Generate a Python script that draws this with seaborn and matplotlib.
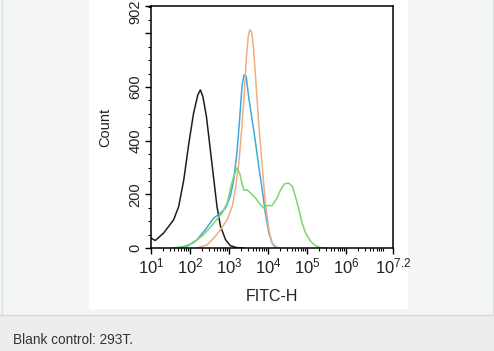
import matplotlib
matplotlib.use("Agg")
import matplotlib.pyplot as plt
from matplotlib.patches import Rectangle
from matplotlib.lines import Line2D
from matplotlib.ticker import FixedLocator, MultipleLocator, NullFormatter, FixedFormatter
from matplotlib.transforms import blended_transform_factory, offset_copy
import numpy as np
import pandas as pd
import seaborn as sns

# ---- data (log10 FITC-H, count) ----
black_log = [1.0, 1.11, 1.325, 1.58, 1.71, 1.84, 1.97, 2.09, 2.20, 2.265, 2.33, 2.42, 2.52, 2.61, 2.69, 2.78, 2.91, 3.03, 3.2, 3.38]
black_cnt = [37, 28, 56, 105, 155, 254, 391, 502, 571, 589, 564, 490, 366, 254, 155, 81, 31, 9, 1, 0]

blue_log = [1.67, 1.92, 2.18, 2.39, 2.61, 2.78, 2.91, 3.03, 3.12, 3.20, 3.27, 3.33, 3.38, 3.44, 3.50, 3.59, 3.68, 3.76, 3.85, 3.93, 4.02, 4.10, 4.19, 4.32]
blue_cnt = [0, 6, 31, 68, 112, 130, 149, 192, 254, 354, 478, 602, 645, 639, 565, 478, 391, 304, 217, 130, 56, 19, 2, 0]

orange_log = [2.18, 2.44, 2.61, 2.78, 2.95, 3.08, 3.16, 3.25, 3.33, 3.39, 3.44, 3.49, 3.53, 3.58, 3.63, 3.69, 3.76, 3.85, 3.93, 4.02, 4.10, 4.23, 4.32]
orange_cnt = [0, 12, 37, 68, 105, 155, 217, 316, 453, 577, 701, 788, 813, 806, 738, 614, 465, 304, 167, 68, 19, 1, 0]

green_log = [1.58, 1.84, 2.09, 2.35, 2.61, 2.82, 2.95, 3.05, 3.12, 3.20, 3.27, 3.33, 3.38, 3.46, 3.55, 3.68, 3.80, 3.89, 3.97, 4.10, 4.23, 4.32, 4.42, 4.53, 4.62, 4.70, 4.79, 4.87, 4.96, 5.09, 5.21, 5.34, 5.5]
green_cnt = [0, 6, 19, 50, 93, 130, 167, 230, 267, 298, 279, 242, 215, 217, 205, 186, 161, 149, 158, 158, 186, 217, 239, 242, 230, 192, 143, 93, 56, 25, 9, 1, 0]

x_ticks = [1e1, 1e2, 1e3, 1e4, 1e5, 1e6, 10**7.2]
x_labels = [r"$\mathregular{10^{1}}$", r"$\mathregular{10^{2}}$", r"$\mathregular{10^{3}}$",
            r"$\mathregular{10^{4}}$", r"$\mathregular{10^{5}}$", r"$\mathregular{10^{6}}$",
            r"$\mathregular{10^{7.2}}$"]
y_ticks = [0, 200, 400, 600, 800, 902]
y_labels = ["0", "200", "400", "600", "", ""]
y_top_label = "902"
caption = "Blank control: 293T."

series = [
    ("black", black_log, black_cnt, "#1e1e1e"),
    ("blue", blue_log, blue_cnt, "#3fa9e0"),
    ("orange", orange_log, orange_cnt, "#f2ae80"),
    ("green", green_log, green_cnt, "#7cd66c"),
]

sns.set_theme(style="white")
plt.rcParams["font.family"] = ["Liberation Sans", "DejaVu Sans"]
plt.rcParams["mathtext.fontset"] = "custom"
plt.rcParams["mathtext.rm"] = "Liberation Sans"

W, H = 494, 351
fig = plt.figure(figsize=(W / 100, H / 100), dpi=100)
fig.patch.set_facecolor("#f4f6f6")

# lower caption band
fig.add_artist(Rectangle((0, 0), 1, 1 - 315 / H, transform=fig.transFigure,
                         facecolor="#eceeee", edgecolor="none", zorder=-10))
fig.add_artist(Line2D([0, 1], [1 - 315 / H] * 2, transform=fig.transFigure, color="#d4d7d7", lw=1.0, zorder=-9))
fig.add_artist(Line2D([1.5 / W] * 2, [1 - 315 / H, 1], transform=fig.transFigure, color="#dde0e0", lw=1.0, zorder=-9))
fig.add_artist(Line2D([492.5 / W] * 2, [1 - 315 / H, 1], transform=fig.transFigure, color="#dde0e0", lw=1.0, zorder=-9))
# white image panel
fig.add_artist(Rectangle((89 / W, 1 - 309 / H), (408 - 89) / W, 309 / H, transform=fig.transFigure,
                         facecolor="white", edgecolor="none", zorder=-8))

ax = fig.add_axes([151 / W, 1 - 248 / H, 242 / W, 242 / H])
ax.set_zorder(5)
ax.set_facecolor("white")

frames = []
for name, lg, cnt, col in series:
    frames.append(pd.DataFrame({"x": 10 ** np.array(lg), "count": cnt, "s": name}))
df = pd.concat(frames, ignore_index=True)
pal = {n: c for n, _, _, c in series}
sns.lineplot(data=df, x="x", y="count", hue="s", palette=pal, ax=ax, legend=False,
             linewidth=1.1, sort=False, estimator=None)

ax.set_xscale("log")
ax.set_xlim(1e1, 10**7.2)
ax.set_ylim(0, 902)
ax.xaxis.set_major_locator(FixedLocator(x_ticks))
ax.xaxis.set_major_formatter(FixedFormatter(x_labels))
minor = [m * 10**d for d in range(1, 8) for m in range(2, 10) if m * 10**d < 10**7.2]
ax.xaxis.set_minor_locator(FixedLocator(minor))
ax.xaxis.set_minor_formatter(NullFormatter())
ax.yaxis.set_major_locator(FixedLocator(y_ticks))
ax.yaxis.set_major_formatter(FixedFormatter(y_labels))
ax.yaxis.set_minor_locator(MultipleLocator(50))

for sp in ax.spines.values():
    sp.set_color("black")
    sp.set_linewidth(1.1)

ax.tick_params(axis="both", which="major", direction="out", length=4, width=1.0,
               color="black", labelcolor="#222222")
ax.tick_params(axis="both", which="minor", direction="out", length=2.5, width=0.8, color="black")
ax.tick_params(axis="x", which="both", bottom=True, top=False)
ax.tick_params(axis="y", which="both", left=True, right=False)
ax.tick_params(axis="x", which="major", labelsize=12, pad=2)
ax.tick_params(axis="y", which="major", labelsize=10.5, pad=2)
for lab in ax.get_yticklabels():
    lab.set_rotation(90)
    lab.set_va("center")

# top y label (partly clipped by the image edge, as in the reference)
trans = offset_copy(blended_transform_factory(ax.transAxes, ax.transData), fig=fig,
                    x=-6, y=-4, units="points")
ax.text(0, y_ticks[-1], y_top_label, transform=trans, rotation=90, ha="right", va="center",
        fontsize=10.5, color="#222222", clip_on=False)

ax.set_xlabel("FITC-H", fontsize=11.5, color="#222222", labelpad=9)
ax.set_ylabel("Count", fontsize=10.5, color="#222222", labelpad=12)

fig.text(13 / W, 1 - 340 / H, caption, fontsize=9.8, color="#333333", va="center", ha="left")

fig.savefig("out.png", dpi=100, facecolor=fig.get_facecolor())
